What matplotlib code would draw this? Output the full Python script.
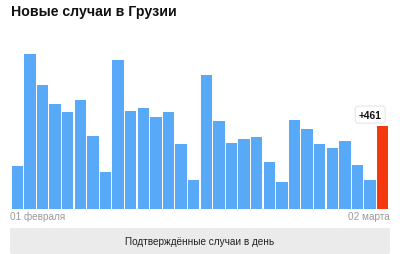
import numpy as np
import matplotlib
matplotlib.use('Agg')
from matplotlib import pyplot as plt
from matplotlib.patches import FancyBboxPatch

plt.rcParams['font.family'] = ['Liberation Sans', 'DejaVu Sans']

# новые случаи по дням, 01 февраля - 02 марта
cases = [237, 860, 690, 582, 539, 604, 405, 202, 829, 545,
         558, 510, 536, 358, 160, 744, 489, 365, 387, 397,
         257, 146, 493, 443, 361, 337, 374, 244, 159, 461]
first_label = '01 февраля'
last_label = '02 марта'
title = 'Новые случаи в Грузии'
button = 'Подтверждённые случаи в день'

blue = '#58a9f7'
red = '#f4390f'

fig = plt.figure(figsize=(4, 2.55), dpi=100)
ax = fig.add_axes([11/400, 45.5/255, 378/400, 161.6/255])

x = np.arange(len(cases))
colors = [blue]*(len(cases)-1) + [red]
ax.bar(x, cases, width=0.92, color=colors, linewidth=0)
ax.set_xlim(-0.5, len(cases)-0.5)
ax.set_ylim(0, 900)
ax.axis('off')

# подпись последнего значения
ax.annotate('+%d' % cases[-1], xy=(x[-1], cases[-1]), xytext=(-9, 8),
            textcoords='offset points', ha='center', va='center',
            fontsize=7.3, fontweight='bold', color='#111111',
            bbox=dict(boxstyle='round,pad=0.35,rounding_size=0.3',
                      fc='white', ec='#e6e6e6', lw=0.8))

fig.text(11/400, 1 - 12/255, title, fontsize=10.2, fontweight='bold',
         ha='left', va='center', color='#111111')
fig.text(10/400, 1 - 217/255, first_label, fontsize=7.2, color='#9a9a9a',
         ha='left', va='center')
fig.text(390/400, 1 - 217/255, last_label, fontsize=7.2, color='#9a9a9a',
         ha='right', va='center')

# серая кнопка внизу
box = FancyBboxPatch((10/400, 0), 380/400, 26/255,
                     boxstyle='round,pad=0,rounding_size=0.005',
                     transform=fig.transFigure, fc='#ebebeb', ec='none')
fig.patches.append(box)
fig.text(0.5, 1 - 242/255, button, fontsize=7.2, color='#222222',
         ha='center', va='center')

fig.savefig('out.png', dpi=100)
